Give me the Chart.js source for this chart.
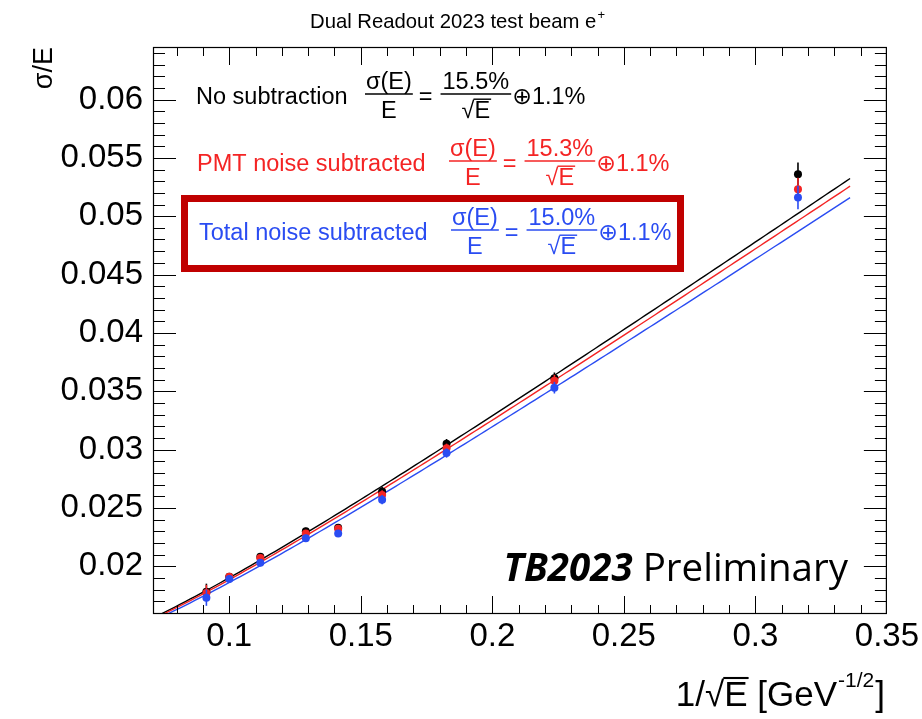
<!DOCTYPE html>
<html>
<head>
<meta charset="utf-8">
<script src="https://cdn.jsdelivr.net/npm/chart.js@4.4.0/dist/chart.umd.min.js"></script>
<style>
  html, body { margin: 0; padding: 0; background: #ffffff; }
  canvas { display: block; }
</style>
</head>
<body>
<canvas id="c" width="922" height="719"></canvas>
<script>
// 1/sqrt(E) for beam energies 120, 100, 80, 60, 50, 40, 30, 20, 10 GeV
const invSqrtE = [0.0913, 0.1000, 0.1118, 0.1291, 0.1414, 0.1581, 0.1826, 0.2236, 0.3162];

// sigma/E and its uncertainty for each noise treatment
const resNoSub  = [0.0178, 0.0191, 0.0208, 0.0230, 0.0233, 0.0264, 0.0305, 0.0361, 0.0536];
const errNoSub  = [0.0007, 0.0003, 0.0003, 0.0003, 0.0003, 0.0004, 0.0004, 0.0005, 0.0010];
const resPmtSub = [0.0177, 0.0191, 0.0207, 0.0228, 0.0232, 0.0261, 0.0301, 0.0359, 0.0523];
const errPmtSub = [0.0007, 0.0003, 0.0003, 0.0003, 0.0003, 0.0004, 0.0004, 0.0005, 0.0010];
const resTotSub = [0.0173, 0.0189, 0.0203, 0.0224, 0.0228, 0.0257, 0.0297, 0.0353, 0.0516];
const errTotSub = [0.0007, 0.0003, 0.0003, 0.0003, 0.0003, 0.0004, 0.0004, 0.0005, 0.0010];

// fit results: sigma/E = a/sqrt(E) (+) b, in percent
const seriesLabels  = ['No subtraction', 'PMT noise subtracted', 'Total noise subtracted'];
const fitStochastic = [15.5, 15.3, 15.0];
const fitConstant   = [1.1, 1.1, 1.1];
const fitRange      = [0.07, 0.336];

const xTicks      = [0.1, 0.15, 0.2, 0.25, 0.3, 0.35];
const xTickLabels = ['0.1', '0.15', '0.2', '0.25', '0.3', '0.35'];
const yTicks      = [0.02, 0.025, 0.03, 0.035, 0.04, 0.045, 0.05, 0.055, 0.06];
const yTickLabels = ['0.02', '0.025', '0.03', '0.035', '0.04', '0.045', '0.05', '0.055', '0.06'];

const COLORS = ['#000000', '#f42424', '#2a4cf2'];
const SANS = '"Liberation Sans", Arial, "DejaVu Sans", sans-serif';

function pts(ys) { return invSqrtE.map((x, i) => ({ x: x, y: ys[i] })); }

function fitCurve(k) {
  const a = fitStochastic[k] / 100, b = fitConstant[k] / 100;
  const out = [];
  const n = 140;
  for (let i = 0; i <= n; i++) {
    const x = fitRange[0] + (fitRange[1] - fitRange[0]) * i / n;
    out.push({ x: x, y: Math.sqrt(a * a * x * x + b * b) });
  }
  return out;
}

const resSets = [resNoSub, resPmtSub, resTotSub];
const errSets = [errNoSub, errPmtSub, errTotSub];

const datasets = [];
[0, 1, 2].forEach(k => {
  datasets.push({
    type: 'line', label: seriesLabels[k] + ' fit', data: fitCurve(k),
    borderColor: COLORS[k], borderWidth: 1.4, pointRadius: 0, fill: false, tension: 0,
    order: 10 - k
  });
});
[0, 1, 2].forEach(k => {
  datasets.push({
    type: 'scatter', label: seriesLabels[k], data: pts(resSets[k]), errors: errSets[k],
    backgroundColor: COLORS[k], borderColor: COLORS[k], borderWidth: 0,
    pointRadius: 4, pointStyle: 'circle', order: 3 - k
  });
});

// vertical error bars under each marker set
const errorBars = {
  id: 'errorBars',
  beforeDatasetDraw(chart, args) {
    const ds = chart.data.datasets[args.index];
    if (!ds.errors) return;
    const { ctx, chartArea: ca, scales: { x: xs, y: ys } } = chart;
    ctx.save();
    ctx.beginPath();
    ctx.rect(ca.left, ca.top, ca.width, ca.height);
    ctx.clip();
    ctx.strokeStyle = ds.borderColor;
    ctx.lineWidth = 1.6;
    ds.data.forEach((p, i) => {
      const px = xs.getPixelForValue(p.x);
      ctx.beginPath();
      ctx.moveTo(px, ys.getPixelForValue(p.y + ds.errors[i]));
      ctx.lineTo(px, ys.getPixelForValue(p.y - ds.errors[i]));
      ctx.stroke();
    });
    ctx.restore();
  }
};

function hline(ctx, x0, x1, y, w) {
  ctx.save();
  ctx.lineWidth = w || 1.4;
  ctx.beginPath();
  ctx.moveTo(x0, y);
  ctx.lineTo(x1, y);
  ctx.stroke();
  ctx.restore();
}

// "sqrt(E)" with a bar over the E, centred at cx
function drawSqrtE(ctx, cx, base, size) {
  ctx.save();
  ctx.textAlign = 'left';
  const ws = ctx.measureText('\u221A').width;
  const we = ctx.measureText('E').width;
  const x0 = cx - (ws + we) / 2;
  ctx.fillText('\u221A', x0, base);
  ctx.fillText('E', x0 + ws, base);
  hline(ctx, x0 + ws - 1, x0 + ws + we + 1, base - size * 0.80, Math.max(1.2, size * 0.06));
  ctx.restore();
}

// fit formula rows
const rowLayout = [
  { y: 96,  xLabel: 196, xFrac: 366 },
  { y: 163, xLabel: 197, xFrac: 450 },
  { y: 232, xLabel: 199, xFrac: 452 }
];

function drawFormula(ctx, k) {
  const r = rowLayout[k];
  const size = 23.5;
  ctx.save();
  ctx.fillStyle = COLORS[k];
  ctx.strokeStyle = COLORS[k];
  ctx.font = size + 'px ' + SANS;
  ctx.textBaseline = 'alphabetic';
  ctx.textAlign = 'left';
  const base = r.y + 8;
  const numBase = r.y - 7;
  const barY = r.y - 2;
  const denBase = r.y + 22;
  ctx.fillText(seriesLabels[k], r.xLabel, base);

  let x = r.xFrac;
  const n1 = '\u03C3(E)';
  const w1 = ctx.measureText(n1).width;
  ctx.fillText(n1, x, numBase);
  ctx.textAlign = 'center';
  ctx.fillText('E', x + w1 / 2, denBase);
  hline(ctx, x - 1, x + w1 + 1, barY);
  x += w1 + 7;

  ctx.textAlign = 'left';
  ctx.fillText('=', x, base);
  x += ctx.measureText('=').width + 10;

  const n2 = fitStochastic[k].toFixed(1) + '%';
  const w2 = ctx.measureText(n2).width;
  ctx.fillText(n2, x, numBase);
  hline(ctx, x - 2, x + w2 + 2, barY);
  drawSqrtE(ctx, x + w2 / 2, denBase, size);
  x += w2 + 3;

  ctx.textAlign = 'left';
  ctx.fillText('\u2295' + fitConstant[k].toFixed(1) + '%', x, base);
  ctx.restore();
}

const decorations = {
  id: 'decorations',
  afterDraw(chart) {
    const { ctx, chartArea: ca, scales: { x: xs, y: ys } } = chart;
    ctx.save();

    // frame
    ctx.strokeStyle = '#000';
    ctx.lineWidth = 1.2;
    ctx.strokeRect(ca.left + 0.5, ca.top + 0.5, ca.width - 1, ca.height - 1);

    // inward ticks on all four sides
    ctx.beginPath();
    for (let k = 8; k <= 35; k++) {
      const px = Math.round(xs.getPixelForValue(k / 100)) + 0.5;
      if (px > ca.right) continue;
      const len = (k % 5 === 0) ? 18 : 9;
      ctx.moveTo(px, ca.bottom); ctx.lineTo(px, ca.bottom - len);
      ctx.moveTo(px, ca.top); ctx.lineTo(px, ca.top + len);
    }
    for (let k = 16; k <= 64; k++) {
      const py = Math.round(ys.getPixelForValue(k / 1000)) + 0.5;
      const len = (k % 5 === 0) ? 23 : 12;
      ctx.moveTo(ca.left, py); ctx.lineTo(ca.left + len, py);
      ctx.moveTo(ca.right, py); ctx.lineTo(ca.right - len, py);
    }
    ctx.lineWidth = 1;
    ctx.stroke();

    // title
    ctx.fillStyle = '#000';
    ctx.textBaseline = 'alphabetic';
    ctx.textAlign = 'left';
    ctx.font = '20.3px ' + SANS;
    const title = 'Dual Readout 2023 test beam e';
    const tw = ctx.measureText(title).width;
    ctx.fillText(title, 310, 28);
    ctx.font = '13px ' + SANS;
    ctx.fillText('+', 310 + tw + 1, 19);

    // x-axis title, right aligned to the frame
    const big = 35, small = 21;
    ctx.font = big + 'px ' + SANS;
    const wA = ctx.measureText('1/').width;
    const wS = ctx.measureText('\u221A').width + ctx.measureText('E').width;
    const wB = ctx.measureText(' [GeV').width;
    const wC = ctx.measureText(']').width;
    ctx.font = small + 'px ' + SANS;
    const wSup = ctx.measureText('-1/2').width;
    const xEnd = 885, xb = 706;
    let xx = xEnd - (wA + wS + wB + wSup + wC + 2);
    ctx.font = big + 'px ' + SANS;
    ctx.fillText('1/', xx, xb); xx += wA;
    drawSqrtE(ctx, xx + wS / 2, xb, big); xx += wS;
    ctx.fillText(' [GeV', xx, xb); xx += wB + 1;
    ctx.font = small + 'px ' + SANS;
    ctx.fillText('-1/2', xx, xb - 19); xx += wSup + 1;
    ctx.font = big + 'px ' + SANS;
    ctx.fillText(']', xx, xb);

    // fit formulas
    for (let k = 0; k < 3; k++) drawFormula(ctx, k);

    // highlight box round the total-noise result
    ctx.strokeStyle = '#c00000';
    ctx.lineWidth = 7;
    ctx.strokeRect(184.5, 198.5, 496, 70);

    // preliminary tag
    ctx.fillStyle = '#000';
    ctx.textAlign = 'right';
    ctx.font = '38.5px "Open Sans", "Noto Sans", sans-serif';
    const wPre = ctx.measureText('Preliminary').width;
    const wSp = ctx.measureText(' ').width;
    ctx.fillText('Preliminary', 848, 581);
    ctx.font = 'italic bold 38.5px "Open Sans", "Noto Sans", sans-serif';
    ctx.fillText('TB2023', 848 - wPre - wSp, 581);

    ctx.restore();
  }
};

new Chart(document.getElementById('c'), {
  type: 'scatter',
  data: { datasets: datasets },
  options: {
    responsive: false,
    animation: false,
    devicePixelRatio: 1,
    layout: { padding: { top: 47, right: 34, bottom: 0, left: 0 } },
    plugins: {
      legend: { display: false },
      title: { display: false },
      tooltip: { enabled: false }
    },
    scales: {
      x: {
        type: 'linear', min: 0.071, max: 0.35,
        afterBuildTicks: s => { s.ticks = xTicks.map(v => ({ value: v })); },
        afterFit: s => { s.height = 105; },
        ticks: {
          callback: (v, i) => xTickLabels[i],
          font: { family: SANS, size: 33 }, color: '#000',
          padding: 3, maxRotation: 0, autoSkip: false
        },
        grid: { display: false, drawTicks: false },
        border: { display: false }
      },
      y: {
        type: 'linear', min: 0.0159, max: 0.0645,
        afterBuildTicks: s => { s.ticks = yTicks.map(v => ({ value: v })); },
        afterFit: s => { s.width = 153; },
        ticks: {
          callback: (v, i) => yTickLabels[i],
          font: { family: SANS, size: 33 }, color: '#000',
          padding: 10, autoSkip: false
        },
        title: {
          display: true, text: '\u03C3/E', align: 'end', color: '#000',
          font: { family: SANS, size: 27 }, padding: { top: 28, bottom: 0 }
        },
        grid: { display: false, drawTicks: false },
        border: { display: false }
      }
    }
  },
  plugins: [errorBars, decorations]
});
</script>
</body>
</html>
